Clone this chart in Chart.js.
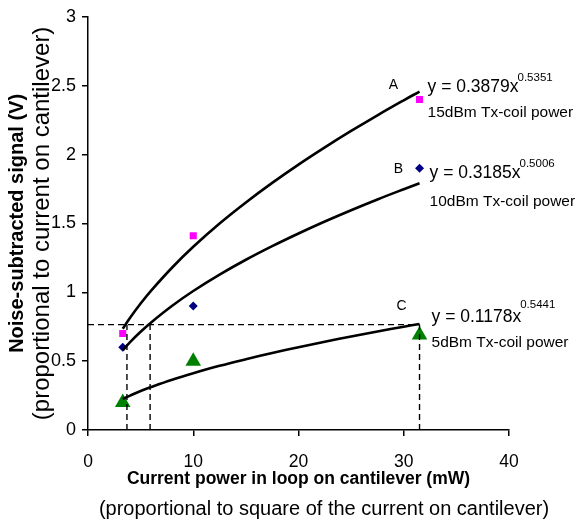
<!DOCTYPE html>
<html>
<head>
<meta charset="utf-8">
<script src="https://cdn.jsdelivr.net/npm/chart.js@4.4.1/dist/chart.umd.min.js"></script>
<style>
  html, body { margin: 0; padding: 0; background: #fff; }
  #wrap { width: 578px; height: 524px; position: relative; }
</style>
</head>
<body>
<div id="wrap"><canvas id="c" width="578" height="524"></canvas></div>
<script>
// ---- data ----
const measuredX = [3.3, 10, 31.5];
const signalA = [0.70, 1.41, 2.40];   // 15 dBm
const signalB = [0.60, 0.90, 1.90];   // 10 dBm
const signalC = [0.20, 0.50, 0.69];   // 5 dBm

const trendX  = [3.3, 4, 5, 6, 8, 10, 12.5, 15, 17.5, 20, 22.5, 25, 27.5, 30, 31.5];
const trendA  = [0.735, 0.815, 0.918, 1.012, 1.180, 1.330, 1.499, 1.652, 1.794, 1.927, 2.052, 2.171, 2.285, 2.394, 2.457];
const trendB  = [0.579, 0.638, 0.713, 0.781, 0.902, 1.009, 1.128, 1.236, 1.335, 1.427, 1.514, 1.596, 1.674, 1.748, 1.791];
const trendC  = [0.226, 0.250, 0.283, 0.312, 0.365, 0.412, 0.466, 0.514, 0.559, 0.601, 0.641, 0.679, 0.715, 0.750, 0.770];

const guideLevel = 0.765;
const guideXs = [3.7, 5.9, 31.5];

const curveNames = ['A', 'B', 'C'];
const eqMain = ['y = 0.3879x', 'y = 0.3185x', 'y = 0.1178x'];
const eqExp  = ['0.5351', '0.5006', '0.5441'];
const eqDesc = ['15dBm Tx-coil power', '10dBm Tx-coil power', '5dBm Tx-coil power'];

const xTickValues = [0, 10, 20, 30, 40];
const yTickLabels = ['0', '0.5', '1', '1.5', '2', '2.5', '3'];

const yTitleBold = 'Noise-subtracted signal (V)';
const yTitleNorm = '(proportional to current on cantilever)';
const xTitleBold = 'Current power in loop on cantilever (mW)';
const xTitleNorm = '(proportional to square of the current on cantilever)';

// ---- helpers ----
const pts = (xs, ys) => xs.map((v, i) => ({ x: v, y: ys[i] }));
const SANS = "'Liberation Sans', Arial, sans-serif";

const trendStyle = { type: 'line', borderColor: '#000', borderWidth: 2.6, pointRadius: 0, tension: 0.4, fill: false, order: 1 };
const dashStyle = { type: 'line', borderColor: '#000', borderWidth: 1.4, borderDash: [6, 4], pointRadius: 0, fill: false, order: 2 };

const datasets = [
  Object.assign({ label: 'Trend A', data: pts(trendX, trendA) }, trendStyle),
  Object.assign({ label: 'Trend B', data: pts(trendX, trendB) }, trendStyle),
  Object.assign({ label: 'Trend C', data: pts(trendX, trendC) }, trendStyle),
  Object.assign({ label: 'Level', data: [{ x: 0, y: guideLevel }, { x: guideXs[2], y: guideLevel }] }, dashStyle),
  ...guideXs.map((gx, i) => Object.assign({ label: 'Guide ' + i, data: [{ x: gx, y: 0 }, { x: gx, y: guideLevel }] }, dashStyle)),
  { type: 'scatter', label: '15dBm', data: pts(measuredX, signalA), pointStyle: 'rect', pointRadius: 5, backgroundColor: '#ff00ff', borderColor: '#ff00ff', borderWidth: 0, order: 3 },
  { type: 'scatter', label: '10dBm', data: pts(measuredX, signalB), pointStyle: 'rectRot', pointRadius: 4.5, backgroundColor: '#000080', borderColor: '#000080', borderWidth: 0, order: 3 },
  { type: 'scatter', label: '5dBm', data: pts(measuredX, signalC), pointStyle: 'triangle', pointRadius: 9, backgroundColor: '#008000', borderColor: '#008000', borderWidth: 0, order: 3 }
];

const trendSets = [trendA, trendB, trendC];
// pixel offsets of the annotation texts relative to each curve's end point
const annotOffsets = [
  { letter: [-26, -6], eq: [8, -4], sup: -14, desc: 21 },
  { letter: [-21, -14], eq: [10, -10], sup: -19, desc: 18 },
  { letter: [-18, -18], eq: [12, -7], sup: -19, desc: 19 }
];

const annotPlugin = {
  id: 'annot',
  afterDraw(chart) {
    const { ctx, scales: { x, y }, chartArea } = chart;
    ctx.save();
    ctx.fillStyle = '#000';
    ctx.textBaseline = 'middle';
    trendSets.forEach((ts, i) => {
      const ex = x.getPixelForValue(trendX[trendX.length - 1]);
      const ey = y.getPixelForValue(ts[ts.length - 1]);
      const o = annotOffsets[i];
      ctx.textAlign = 'center';
      ctx.font = '14px ' + SANS;
      ctx.fillText(curveNames[i], ex + o.letter[0], ey + o.letter[1]);
      ctx.textAlign = 'left';
      ctx.font = '17.5px ' + SANS;
      const eqx = ex + o.eq[0];
      ctx.fillText(eqMain[i], eqx, ey + o.eq[1]);
      const w = ctx.measureText(eqMain[i]).width;
      ctx.font = '11.5px ' + SANS;
      ctx.fillText(eqExp[i], eqx + w - 1, ey + o.sup);
      ctx.font = '15.5px ' + SANS;
      ctx.fillText(eqDesc[i], eqx, ey + o.desc);
    });
    // second line of the x-axis title
    ctx.textAlign = 'center';
    ctx.font = '20px ' + SANS;
    ctx.fillText(xTitleNorm, chartArea.left + 236, chart.height - 15);
    ctx.restore();
  }
};

new Chart(document.getElementById('c'), {
  type: 'scatter',
  data: { datasets },
  plugins: [annotPlugin],
  options: {
    responsive: false,
    animation: false,
    layout: { padding: { top: 16, right: 69, bottom: 34, left: 0 } },
    plugins: {
      legend: { display: false },
      tooltip: { enabled: false },
      title: {
        display: true,
        text: yTitleBold,
        position: 'left',
        fullSize: false,
        color: '#000',
        font: { family: SANS, size: 20, weight: 'bold', lineHeight: 1 },
        padding: { top: 7, bottom: 0 }
      }
    },
    scales: {
      x: {
        type: 'linear',
        min: 0, max: 40,
        afterBuildTicks: (s) => { s.ticks = xTickValues.map(v => ({ value: v })); },
        afterFit: (s) => { s.height = 60; },
        border: { display: true, color: '#000', width: 1.5 },
        grid: { display: true, drawOnChartArea: false, drawTicks: true, tickLength: 6, color: '#000', lineWidth: 1.5 },
        ticks: { color: '#000', padding: 15.5, font: { family: SANS, size: 17.5, lineHeight: 1.2 }, maxRotation: 0 },
        title: {
          display: true, text: xTitleBold, color: '#000',
          font: { family: SANS, size: 17.5, weight: 'bold', lineHeight: 1 },
          padding: { top: 0, bottom: 2 }
        }
      },
      y: {
        type: 'linear',
        min: 0, max: 3,
        ticks: {
          stepSize: 0.5, color: '#000', padding: 6,
          font: { family: SANS, size: 18, lineHeight: 1.2 },
          callback: (v, i) => yTickLabels[i]
        },
        afterFit: (s) => { s.width = 61; },
        border: { display: true, color: '#000', width: 1.5 },
        grid: { display: true, drawOnChartArea: false, drawTicks: true, tickLength: 6, color: '#000', lineWidth: 1.5 },
        title: {
          display: true, text: yTitleNorm, color: '#000',
          font: { family: SANS, size: 24, lineHeight: 1 },
          padding: { top: 3, bottom: 0 }
        }
      }
    }
  }
});
</script>
</body>
</html>
